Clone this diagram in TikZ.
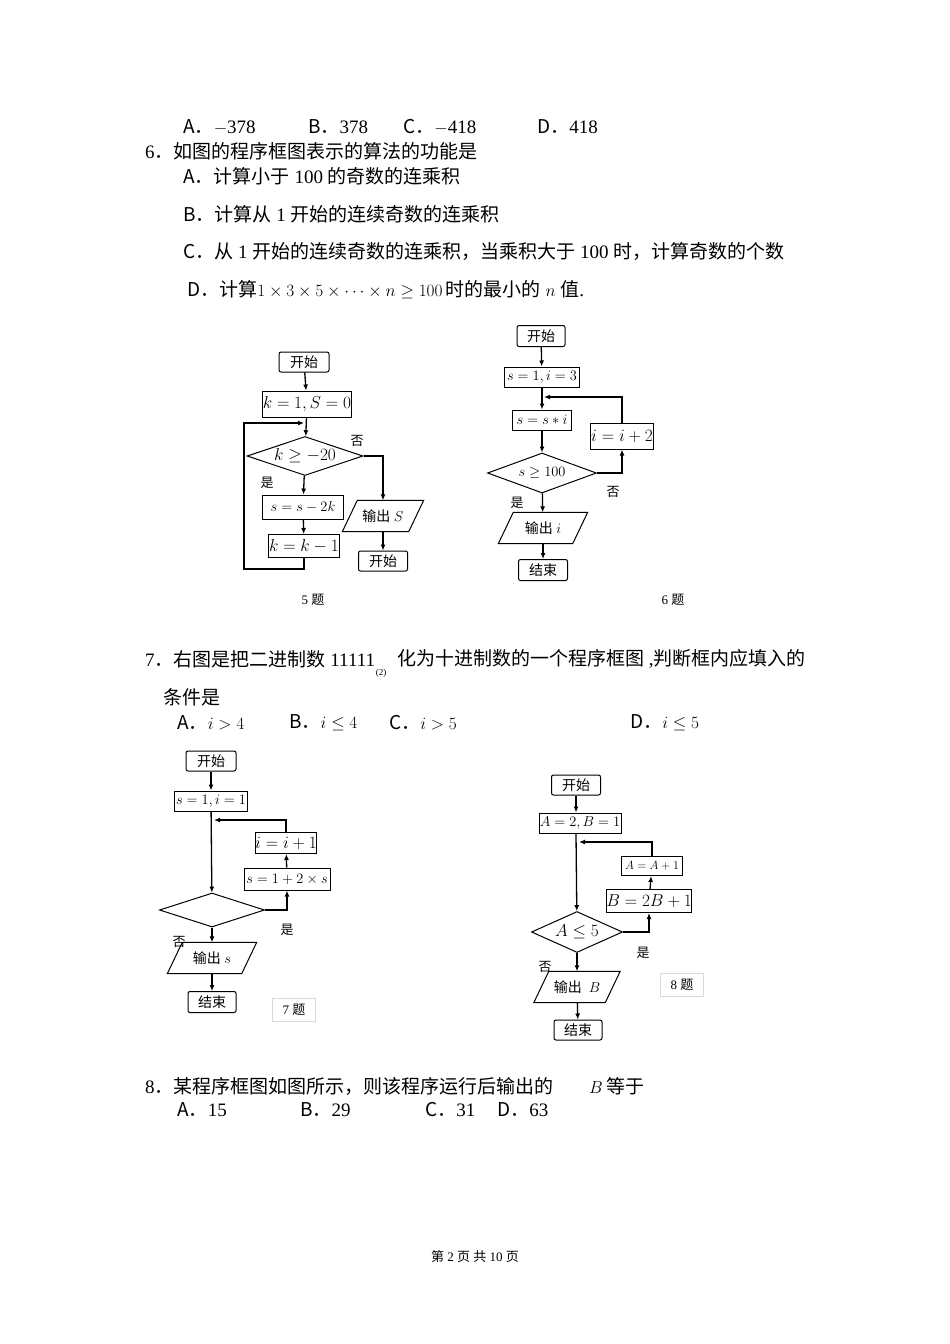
\documentclass[tikz,border=0pt]{standalone}
\usepackage{fontspec}
\setmainfont{Liberation Serif}
\newfontfamily\cjk{Noto Sans CJK SC}
\newcommand\zh[1]{{\cjk #1}}
\usetikzlibrary{shapes.geometric,arrows.meta}
\begin{document}
\begin{tikzpicture}[x=1pt,y=-1pt,
  txt/.style={anchor=west,inner sep=0pt,font=\fontsize{19}{21}\selectfont},
  small/.style={inner sep=0pt,font=\fontsize{13}{15}\selectfont},
  fl/.style={draw,line width=1pt,inner sep=0pt,font=\fontsize{14}{16}\selectfont},
  term/.style={fl,rounded corners=2pt},
  proc/.style={fl},
  dec/.style={fl,diamond},
  io/.style={inner sep=0pt,font=\fontsize{14}{16}\selectfont},
  par/.style={line width=1pt},
  arr/.style={line width=1.3pt,-{Latex[length=6pt,width=5pt]}},
  lab/.style={inner sep=0pt,font=\fontsize{13}{15}\selectfont\cjk}]
\useasboundingbox (0,0) rectangle (950,1344);
% ---------- text ----------
\node[txt] (t1a) at (183,127) {\zh{A．}$-$378};
\node[txt] (t1b) at (308,127) {\zh{B．}378};
\node[txt] (t1c) at (403,127) {\zh{C．}$-$418};
\node[txt] (t1d) at (537,127) {\zh{D．}418};
\node[txt] (t6) at (145,151) {6\zh{．如图的程序框图表示的算法的功能是}};
\node[txt] (t6a) at (183,176) {\zh{A．计算小于} 100 \zh{的奇数的连乘积}};
\node[txt] (t6b) at (183,214) {\zh{B．计算从} 1 \zh{开始的连续奇数的连乘积}};
\node[txt] (t6c) at (183,251) {\zh{C．从} 1 \zh{开始的连续奇数的连乘积，当乘积大于} 100 \zh{时，计算奇数的个数}};
\node[txt] (t6d) at (187,290) {\zh{D．计算}$1\times 3\times 5\times\cdots\times n\geq 100$\,\zh{时的最小的} $n$ \zh{值}.};
\node[txt] (t7) at (145,659) {7\zh{．右图是把二进制数} 11111};
\node[small,font=\fontsize{9}{10}\selectfont] (t7s) at (381,673) {(2)};
\node[txt] (t7b) at (397,659) {\zh{化为十进制数的一个程序框图}\ ,\zh{判断框内应填入的}};
\node[txt] (t7c) at (163,697) {\zh{条件是}};
\node[txt] (t7o1) at (177,723) {\zh{A．}$i>4$};
\node[txt] (t7o2) at (289,723) {\zh{B．}$i\leq 4$};
\node[txt] (t7o3) at (389,723) {\zh{C．}$i>5$};
\node[txt] (t7o4) at (630,723) {\zh{D．}$i\leq 5$};
\node[txt] (t8) at (145,1086) {8\zh{．某程序框图如图所示，则该程序运行后输出的}};
\node[txt] (t8b) at (589,1086) {$B$\,\zh{等于}};
\node[txt] (t8o1) at (177,1110) {\zh{A．}15};
\node[txt] (t8o2) at (300,1110) {\zh{B．}29};
\node[txt] (t8o3) at (425,1110) {\zh{C．}31};
\node[txt] (t8o4) at (497,1110) {\zh{D．}63};
\node[small] (foot) at (475,1257) {\zh{第} 2 \zh{页} \zh{共} 10 \zh{页}};
% ---------- chart 5 ----------
\node[term,minimum width=50pt,minimum height=20pt] (s5) at (304,362) {\zh{开始}};
\node[proc,minimum width=84pt,minimum height=26pt,font=\fontsize{16}{18}\selectfont] (i5) at (307,404) {$k=1,S=0$};
\node[dec,minimum width=116pt,minimum height=39pt,aspect=3,font=\fontsize{16}{18}\selectfont] (d5) at (305,456) {$k\geq -20$};
\node[proc,minimum width=81pt,minimum height=24pt,font=\fontsize{15}{17}\selectfont] (a5) at (303,507) {$s=s-2k$};
\node[proc,minimum width=71pt,minimum height=23pt,font=\fontsize{16}{18}\selectfont] (b5) at (304,546) {$k=k-1$};
\node[io,minimum width=81pt,minimum height=31pt] (o5) at (383,516) {\zh{输出} $S$};
\draw[par] (o5.south west) -- ([xshift=15pt]o5.north west) -- (o5.north east) -- ([xshift=-15pt]o5.south east) -- cycle;
\node[term,minimum width=49pt,minimum height=20pt] (e5) at (383,561) {\zh{开始}};
\coordinate (c5a) at (244,569);
\coordinate (c5b) at (244,423);
\coordinate (c5c) at (304,423);
\draw[arr] (s5) -- (i5);
\draw[arr] (i5) -- (d5);
\draw[arr] (d5) -- (a5);
\draw[arr] (a5) -- (b5);
\draw[arr] (b5.south) |- (c5a) -- (c5b) -- (c5c);
\draw[arr] (d5.east) -| (o5.north);
\draw[arr] (o5) -- (e5);
\node[lab] (y5) at (267,483) {是};
\node[lab] (n5) at (357,441) {否};
\node[small] (q5) at (313,600) {5 \zh{题}};
% ---------- chart 6 ----------
\node[term,minimum width=48pt,minimum height=21pt] (s6) at (541,336) {\zh{开始}};
\node[proc,minimum width=75pt,minimum height=20pt] (i6) at (542,377) {$s=1,i=3$};
\node[proc,minimum width=59pt,minimum height=20pt] (m6) at (542,420) {$s=s*i$};
\node[proc,minimum width=63pt,minimum height=26pt,font=\fontsize{16}{18}\selectfont] (p6) at (622,436) {$i=i+2$};
\node[dec,minimum width=109pt,minimum height=40pt,aspect=2.7] (d6) at (542,473) {$s\geq 100$};
\node[io,minimum width=89pt,minimum height=31pt] (o6) at (543,528) {\zh{输出} $i$};
\draw[par] (o6.south west) -- ([xshift=15pt]o6.north west) -- (o6.north east) -- ([xshift=-15pt]o6.south east) -- cycle;
\node[term,minimum width=49pt,minimum height=21pt] (e6) at (543,570) {\zh{结束}};
\coordinate (c6) at (544,397);
\draw[arr] (s6) -- (i6);
\draw[arr] (i6) -- (m6);
\draw[arr] (m6) -- (d6);
\draw[arr] (d6.east) -| (p6.south);
\draw[arr] (p6.north) |- (c6);
\draw[arr] (d6) -- (o6);
\draw[arr] (o6) -- (e6);
\node[lab] (y6) at (517,503) {是};
\node[lab] (n6) at (613,492) {否};
\node[small] (q6) at (673,600) {6 \zh{题}};
% ---------- chart 7 ----------
\node[term,minimum width=50pt,minimum height=20pt] (s7) at (211,761) {\zh{开始}};
\node[proc,minimum width=73pt,minimum height=20pt] (i7) at (211,801) {$s=1,i=1$};
\node[proc,minimum width=59pt,minimum height=21pt,font=\fontsize{16}{18}\selectfont] (p7) at (286,843) {$i=i+1$};
\node[proc,minimum width=86pt,minimum height=22pt] (q7) at (287,879) {$s=1+2\times s$};
\node[dec,minimum width=105pt,minimum height=34pt,aspect=3.1] (d7) at (212,910) {};
\node[io,minimum width=89pt,minimum height=31pt] (o7) at (212,958) {\zh{输出} $s$};
\draw[par] (o7.south west) -- ([xshift=15pt]o7.north west) -- (o7.north east) -- ([xshift=-15pt]o7.south east) -- cycle;
\node[term,minimum width=48pt,minimum height=21pt] (e7) at (212,1002) {\zh{结束}};
\coordinate (c7) at (214,820);
\draw[arr] (s7) -- (i7);
\draw[arr] (i7) -- (d7);
\draw[arr] (d7.east) -| (q7.south);
\draw[arr] (q7) -- (p7);
\draw[arr] (p7.north) |- (c7);
\draw[arr] (d7) -- (o7);
\draw[arr] (o7) -- (e7);
\node[lab] (y7) at (287,930) {是};
\node[lab] (n7) at (179,942) {否};
\node[draw=black!15,minimum width=43pt,minimum height=23pt,inner sep=0pt,font=\fontsize{13}{15}\selectfont] (q7b) at (294,1010) {7 \zh{题}};
% ---------- chart 8 ----------
\node[term,minimum width=49pt,minimum height=20pt] (s8) at (576,785) {\zh{开始}};
\node[proc,minimum width=82pt,minimum height=20pt] (i8) at (580,823) {$A=2,B=1$};
\node[proc,minimum width=61pt,minimum height=19pt,font=\fontsize{12}{14}\selectfont] (p8) at (652,866) {$A=A+1$};
\node[proc,minimum width=80pt,minimum height=23pt,font=\fontsize{16}{18}\selectfont] (q8) at (649,901) {$B=2B+1$};
\node[dec,minimum width=91pt,minimum height=41pt,aspect=2.2,font=\fontsize{16}{18}\selectfont] (d8) at (577,932) {$A\leq 5$};
\node[io,minimum width=86pt,minimum height=31pt] (o8) at (577,987) {\zh{输出}\ \ $B$};
\draw[par] (o8.south west) -- ([xshift=15pt]o8.north west) -- (o8.north east) -- ([xshift=-15pt]o8.south east) -- cycle;
\node[term,minimum width=48pt,minimum height=20pt] (e8) at (578,1030) {\zh{结束}};
\coordinate (c8) at (579,842);
\draw[arr] (s8) -- (s8 |- i8.north);
\draw[arr] (i8.south -| s8) -- (d8);
\draw[arr] (d8.east) -| (q8.south);
\draw[arr] (q8) -- (p8);
\draw[arr] (p8.north) |- (c8);
\draw[arr] (d8) -- (o8);
\draw[arr] (o8) -- (e8);
\node[lab] (y8) at (643,953) {是};
\node[lab] (n8) at (545,967) {否};
\node[draw=black!15,minimum width=43pt,minimum height=23pt,inner sep=0pt,font=\fontsize{13}{15}\selectfont] (q8b) at (682,985) {8 \zh{题}};
\end{tikzpicture}
\end{document}
